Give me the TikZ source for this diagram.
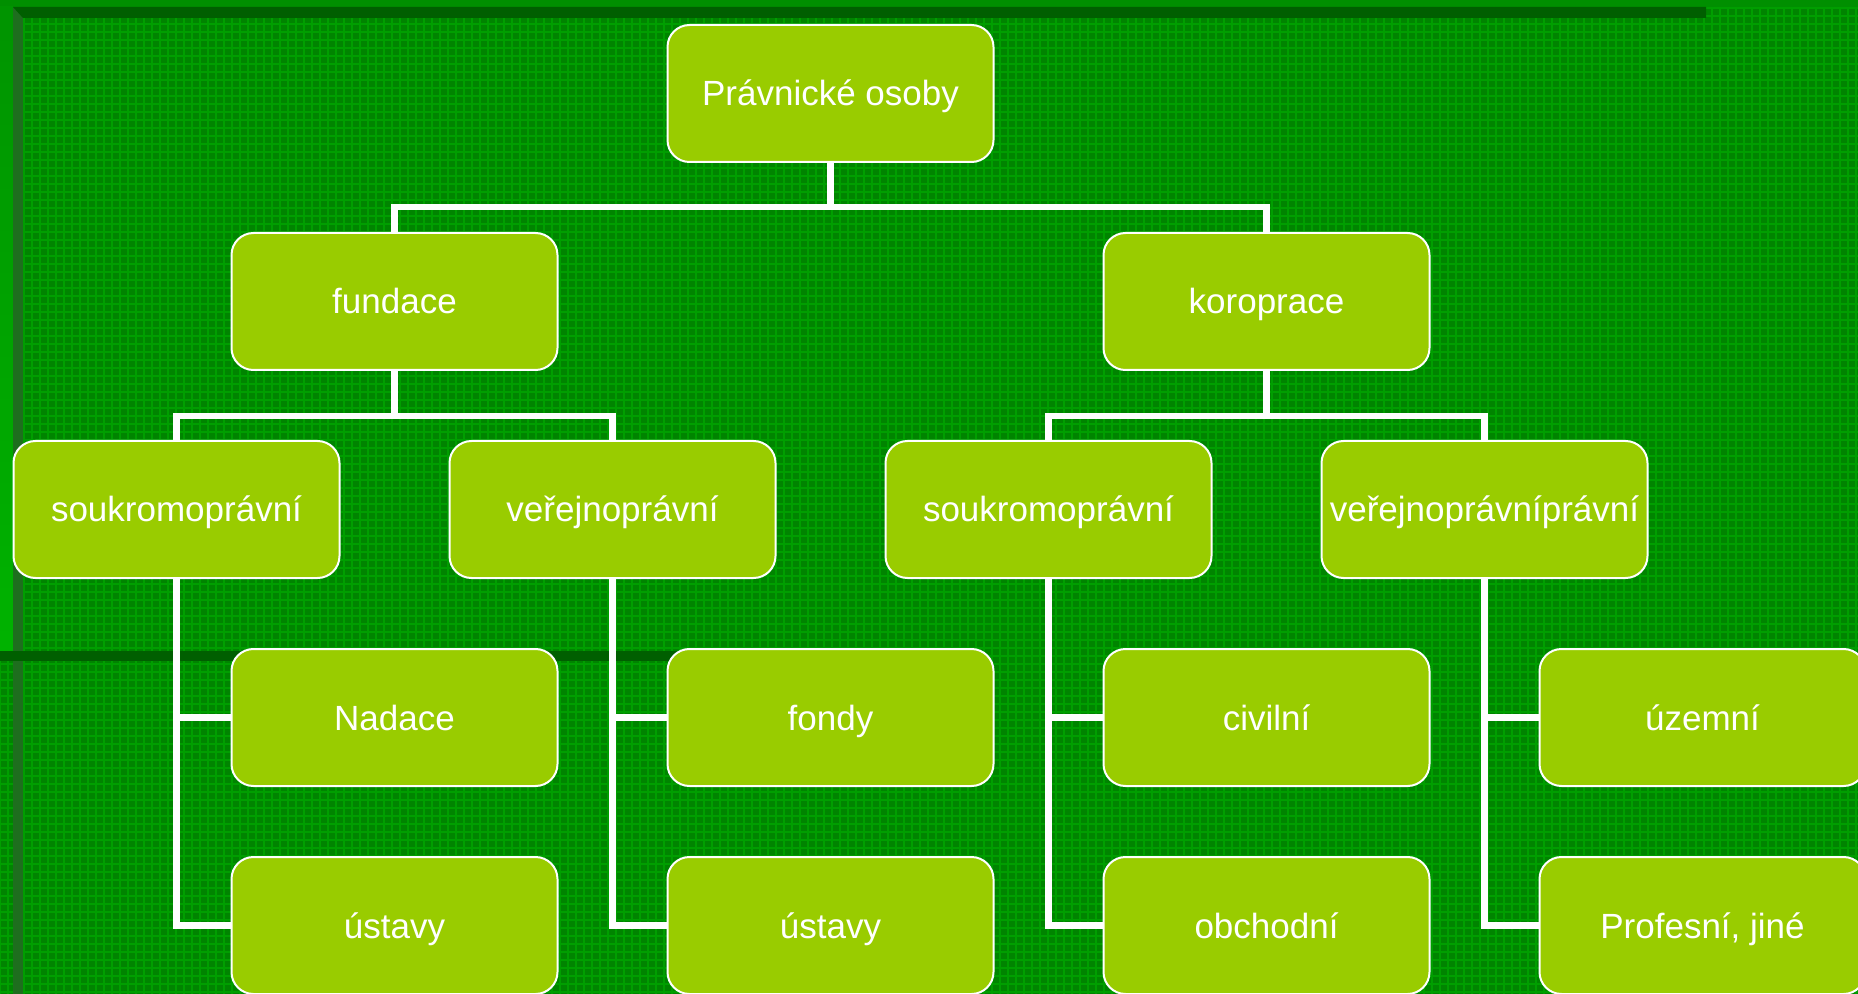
\documentclass[tikz,border=0pt]{standalone}
\usepackage{fontspec}
\setmainfont{Liberation Sans}
\usepackage{xcolor}

\definecolor{bggreen}{HTML}{008400}
\definecolor{gridgreen}{HTML}{009E00}
\definecolor{boxgreen}{HTML}{99CC00}
\definecolor{bardark}{HTML}{005F00}
\definecolor{barside}{HTML}{1E6E1E}

\begin{document}
\begin{tikzpicture}[x=0.5pt,y=-0.5pt,
  box/.style={draw=white,line width=1pt,rounded corners=11pt,fill=boxgreen,
    minimum width=163pt,minimum height=68.5pt,inner sep=1pt,text=white,
    font=\fontsize{17.5}{21}\selectfont,text height=12.5pt,text depth=0pt},
  conn/.style={draw=white,line width=3.4pt}]
\useasboundingbox (0,0) rectangle (1858,994);

\fill[bggreen] (0,0) rectangle (1858,994);
\draw[gridgreen,line width=0.8pt,step=4pt] (0,994) grid (1858,0);
\fill[green!56!black] (0,0) rectangle (1858,7);
\shade[top color=green!58!black,bottom color=green!70!black] (0,7) rectangle (13,651);
\fill[barside] (13,7) rectangle (23,994);
\fill[bardark] (13,7) -- (1706,7) -- (1706,18) -- (23,18) -- cycle;
\fill[bardark] (0,651) rectangle (830,661);

\node[box] (osoby) at (830.5,93.5) {Právnické osoby};

\node[box] (fundace) at (394.5,301.5) {fundace};
\node[box] (korporace) at (1266.5,301.5) {koroprace};

\node[box] (fsoukr) at (176.5,509.5) {soukromoprávní};
\node[box] (fverej) at (612.5,509.5) {veřejnoprávní};
\node[box] (ksoukr) at (1048.5,509.5) {soukromoprávní};
\node[box] (kverej) at (1484.5,509.5) {veřejnoprávníprávní};

\node[box] (nadace) at (394.5,717.5) {Nadace};
\node[box] (fondy) at (830.5,717.5) {fondy};
\node[box] (civilni) at (1266.5,717.5) {civilní};
\node[box] (uzemni) at (1702.5,717.5) {územní};

\node[box] (ustavyA) at (394.5,925.5) {ústavy};
\node[box] (ustavyB) at (830.5,925.5) {ústavy};
\node[box] (obchodni) at (1266.5,925.5) {obchodní};
\node[box] (profesni) at (1702.5,925.5) {Profesní, jiné};

\draw[conn] (osoby.south) -- ++(0,44) -| (fundace.north);
\draw[conn] (osoby.south) -- ++(0,44) -| (korporace.north);

\draw[conn] (fundace.south) -- ++(0,45) -| (fsoukr.north);
\draw[conn] (fundace.south) -- ++(0,45) -| (fverej.north);
\draw[conn] (korporace.south) -- ++(0,45) -| (ksoukr.north);
\draw[conn] (korporace.south) -- ++(0,45) -| (kverej.north);

\draw[conn] (fsoukr.south) |- (nadace.west);
\draw[conn] (fsoukr.south) |- (ustavyA.west);
\draw[conn] (fverej.south) |- (fondy.west);
\draw[conn] (fverej.south) |- (ustavyB.west);
\draw[conn] (ksoukr.south) |- (civilni.west);
\draw[conn] (ksoukr.south) |- (obchodni.west);
\draw[conn] (kverej.south) |- (uzemni.west);
\draw[conn] (kverej.south) |- (profesni.west);
\end{tikzpicture}
\end{document}
